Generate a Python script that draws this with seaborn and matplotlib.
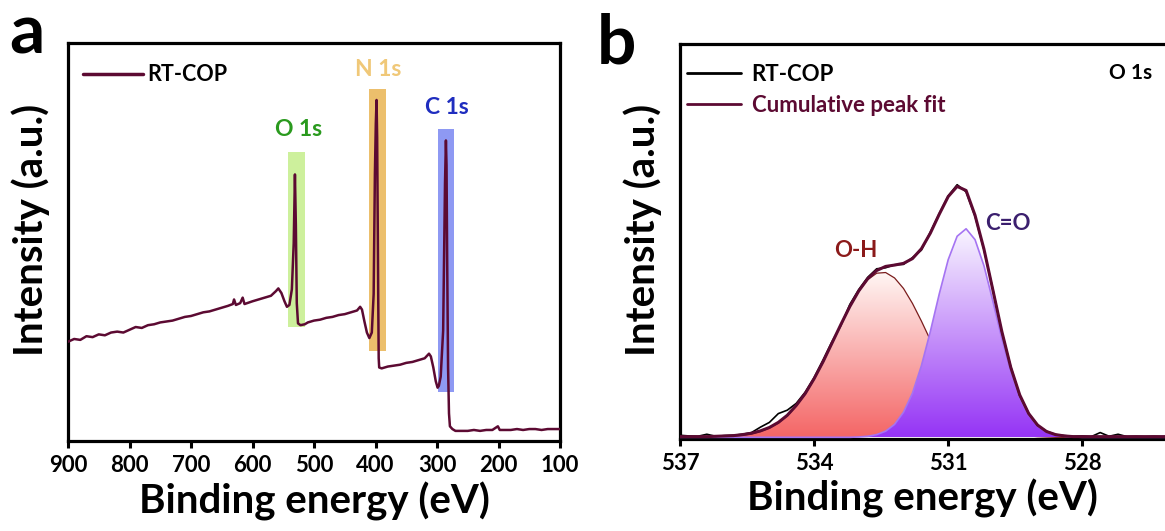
import matplotlib
matplotlib.use('Agg')
import matplotlib.pyplot as plt
from matplotlib.colors import LinearSegmentedColormap
from matplotlib.lines import Line2D
import seaborn as sns
import numpy as np

# ── survey spectrum (panel a) ────────────────────────────────
survey_ev = [900, 890, 880, 870, 860, 850, 840, 830, 820, 810, 800, 790, 780, 770,
             760, 750, 740, 730, 720, 710, 700, 690, 680, 670, 660, 650, 640, 632,
             630, 627, 620, 616, 613, 600, 590, 580, 570, 562, 558, 553, 548, 544,
             540, 536, 533, 531, 529.5, 528, 526, 522, 515, 510, 500, 490, 480, 470,
             460, 450, 440, 430, 425, 422, 418, 414, 410, 406, 403, 401, 399.5, 398.3,
             397.3, 396.5, 395.5, 394.8, 394, 390, 380, 370, 360, 350, 340, 330, 320,
             313, 310, 306, 302, 299, 297, 294, 290, 287, 285.5, 284.5, 283.5, 282,
             280.5, 279, 275, 270, 260, 250, 240, 230, 220, 210, 201, 198, 190, 180,
             170, 160, 150, 140, 130, 120, 110, 100]
survey_int = [108, 111, 110, 114, 113, 116, 115, 118, 119, 118, 121, 124, 123, 126,
              127, 129, 130, 131, 133, 135, 136, 138, 140, 141, 143, 145, 147, 149,
              154, 148, 150, 156, 149, 152, 154, 156, 158, 163, 166, 161, 152, 146,
              148, 165, 215, 290, 235, 150, 128, 126, 127, 129, 131, 132, 134, 135,
              137, 138, 140, 142, 146, 143, 130, 118, 112, 118, 160, 290, 345, 371,
              330, 250, 150, 90, 80, 79, 81, 82, 83, 85, 86, 88, 90,
              95, 92, 80, 65, 58, 60, 70, 120, 280, 327, 300, 200, 80,
              30, 16, 13, 11, 11, 11, 12, 11, 12, 12, 16, 12, 12, 12,
              13, 12, 13, 13, 12, 13, 13, 13]

band_names = ['O 1s', 'N 1s', 'C 1s']
band_ev = [(543, 514), (410, 382.5), (299, 272)]
band_int = [(124, 314), (98, 382.5), (53, 339)]
band_colors = ['#cdf09c', '#ecbf6c', '#8e99f3']
label_colors = ['#2a9a1e', '#f0c878', '#1f2dbf']
label_pos = [(524.4, 339), (396.3, 404), (284, 363)]

# ── O 1s high-resolution spectrum (panel b) ──────────────────
o1s_ev = [537.0, 536.8, 536.6, 536.4, 536.2, 536.0, 535.8, 535.6, 535.4, 535.2,
          535.0, 534.8, 534.6, 534.4, 534.2, 534.0, 533.8, 533.6, 533.4, 533.2,
          533.0, 532.8, 532.6, 532.4, 532.2, 532.0, 531.8, 531.6, 531.4, 531.2,
          531.0, 530.8, 530.6, 530.4, 530.2, 530.0, 529.8, 529.6, 529.4, 529.2,
          529.0, 528.8, 528.6, 528.4, 528.2, 528.0, 527.8, 527.6, 527.4, 527.2,
          527.0, 526.8, 526.6, 526.4, 526.2, 526.0]
raw = [6, 4, 3, 9, 3, 5, 6, 9, 14, 30,
       44, 70, 80, 100, 133, 176, 228, 282, 330, 392,
       436, 472, 497, 500, 509, 510, 530, 552, 605, 660,
       712, 745, 724, 652, 553, 436, 310, 208, 123, 71,
       35, 18, 8, 5, 3, 4, 2, 14, 3, 9,
       2, 3, 2, 3, 2, 3]
cumulative = [2, 2, 2, 2, 3, 4, 5, 8, 12, 19,
              29, 44, 65, 94, 129, 173, 223, 278, 333, 386,
              432, 468, 492, 504, 508, 513, 527, 556, 602, 658,
              710, 740, 728, 655, 555, 434, 312, 206, 125, 70,
              36, 17, 8, 4, 2, 2, 2, 2, 2, 2,
              2, 2, 2, 2, 2, 2]
oh_peak = [0, 0, 0, 0, 1, 2, 3, 6, 10, 17,
           27, 42, 63, 92, 127, 171, 221, 276, 332, 385,
           431, 465, 484, 486, 470, 439, 395, 343, 287, 232,
           180, 135, 98, 69, 46, 30, 19, 11, 7, 4,
           2, 1, 0, 0, 0, 0, 0, 0, 0, 0,
           0, 0, 0, 0, 0, 0]
co_peak = [0, 0, 0, 0, 0, 0, 0, 0, 0, 0,
           0, 0, 0, 0, 0, 0, 0, 0, 0, 0,
           1, 3, 8, 18, 38, 74, 130, 211, 312, 423,
           524, 593, 615, 583, 506, 401, 291, 193, 117, 65,
           33, 15, 7, 3, 1, 0, 0, 0, 0, 0,
           0, 0, 0, 0, 0, 0]

sns.set_theme(style='white')
plt.rcParams['font.family'] = ['Lato', 'DejaVu Sans']
plt.rcParams.update({'font.weight': 'bold', 'axes.labelweight': 'bold',
                     'text.color': 'black', 'axes.labelcolor': 'black',
                     'xtick.color': 'black', 'ytick.color': 'black'})

W, H = 1165, 531
fig = plt.figure(figsize=(W / 100, H / 100), dpi=100)
ax_a = fig.add_axes([68 / W, (H - 441) / H, 492 / W, 398 / H])
ax_b = fig.add_axes([680 / W, (H - 439) / H, 485 / W, 395 / H])

maroon = '#5c0a32'


def gradient_fill(ax, x, y, c_top, c_bot, z):
    poly = ax.fill_between(x, 0, y, facecolor='none', edgecolor='none')
    cmap = LinearSegmentedColormap.from_list('g', [c_bot, c_top])
    grad = np.linspace(0, 1, 256).reshape(-1, 1)
    im = ax.imshow(grad, cmap=cmap, aspect='auto', origin='lower',
                   extent=[max(x), min(x), 0, max(y)], zorder=z)
    im.set_clip_path(poly.get_paths()[0], transform=ax.transData)


# ── panel a ──────────────────────────────────────────────────
for (e0, e1), (i0, i1), c in zip(band_ev, band_int, band_colors):
    ax_a.fill_between([e0, e1], i0, i1, color=c, lw=0, zorder=1)
sns.lineplot(x=survey_ev, y=survey_int, ax=ax_a, color=maroon, lw=1.8,
             sort=False, estimator=None, zorder=3)
for name, (xe, yi), c in zip(band_names, label_pos, label_colors):
    ax_a.text(xe, yi, name, color=c, fontsize=16.5, fontweight='bold',
              ha='center', va='center')
ax_a.legend(handles=[Line2D([], [], color=maroon, lw=2.5)], labels=['RT-COP'],
            loc='center left', bbox_to_anchor=(0.03, 0.92), frameon=False,
            fontsize=15.5, handlelength=2.8, handletextpad=0.2,
            borderpad=0, borderaxespad=0, labelcolor='black')
ax_a.set_xlim(900, 100)
ax_a.set_ylim(0, 433)
ax_a.set_xticks([900, 800, 700, 600, 500, 400, 300, 200, 100])
ax_a.set_yticks([])

# ── panel b ──────────────────────────────────────────────────
gradient_fill(ax_b, o1s_ev, oh_peak, '#fff6f4', '#f46666', 1)
sns.lineplot(x=o1s_ev, y=oh_peak, ax=ax_b, color='#7a1c1c', lw=0.9,
             sort=False, estimator=None, zorder=2)
gradient_fill(ax_b, o1s_ev, co_peak, '#f9f6ff', '#9534f5', 3)
sns.lineplot(x=o1s_ev, y=co_peak, ax=ax_b, color='#a574f2', lw=1.2,
             sort=False, estimator=None, zorder=4)
sns.lineplot(x=o1s_ev, y=raw, ax=ax_b, color='black', lw=1.2,
             sort=False, estimator=None, zorder=5)
sns.lineplot(x=o1s_ev, y=cumulative, ax=ax_b, color=maroon, lw=2.2,
             sort=False, estimator=None, zorder=6)
ax_b.text(533.06, 550, 'O-H', color='#8b1a1a', fontsize=16, fontweight='bold',
          ha='center', va='center')
ax_b.text(529.66, 630, 'C=O', color='#3b1f6e', fontsize=16, fontweight='bold',
          ha='center', va='center')
ax_b.text(526.93, 1073, 'O 1s', color='black', fontsize=15, fontweight='bold',
          ha='center', va='center')
ax_b.legend(handles=[Line2D([], [], color='black', lw=2),
                     Line2D([], [], color=maroon, lw=2)],
            labels=['RT-COP', 'Cumulative peak fit'],
            labelcolor=['black', maroon],
            loc='center left', bbox_to_anchor=(0.015, 0.884), frameon=False,
            fontsize=16, handlelength=2.4, handletextpad=0.5, labelspacing=0.45,
            borderpad=0, borderaxespad=0)
ax_b.set_xlim(537, 526.15)
ax_b.set_ylim(-5, 1160)
ax_b.set_xticks([537, 534, 531, 528])
ax_b.set_yticks([])
ax_b.spines['right'].set_visible(False)

for ax in (ax_a, ax_b):
    for sp in ax.spines.values():
        sp.set_linewidth(2.3)
        sp.set_color('black')
    ax.tick_params(axis='x', direction='out', length=5, width=2.2,
                   labelsize=16, pad=5, bottom=True, colors='black')
    for lbl in ax.get_xticklabels():
        lbl.set_fontweight('bold')
    ax.set_xlabel('Binding energy (eV)', fontsize=29, fontweight='bold', color='black')
    ax.set_ylabel('Intensity (a.u.)', fontsize=29, fontweight='bold', color='black')
    ax.xaxis.label.set_verticalalignment('center')
    ax.yaxis.label.set_verticalalignment('center')
    ax.xaxis.set_label_coords(0.5, -0.151)

ax_a.yaxis.set_label_coords(-0.075, 0.53)
ax_b.yaxis.set_label_coords(-0.076, 0.53)

fig.text(9 / W, (H - 53) / H, 'a', fontsize=50, fontweight='bold',
         va='baseline', color='black')
fig.text(597 / W, (H - 63) / H, 'b', fontsize=50, fontweight='bold',
         va='baseline', color='black')

plt.savefig('out.png', dpi=100)
